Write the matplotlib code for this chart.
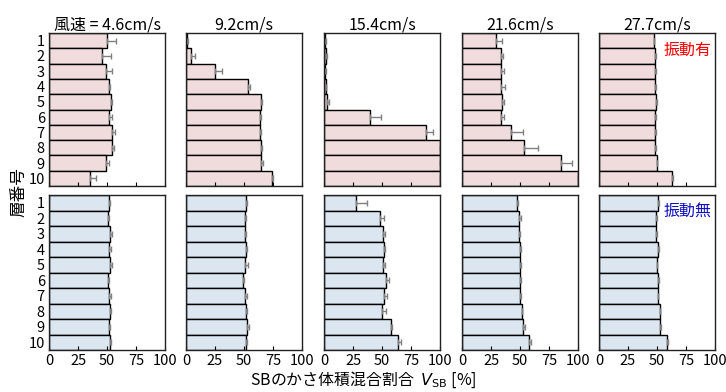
import numpy as np
import matplotlib
matplotlib.use("Agg")
import matplotlib.pyplot as plt

plt.rcParams['font.family'] = ['Noto Sans CJK JP', 'DejaVu Sans']
plt.rcParams['mathtext.fontset'] = 'dejavusans'

layers = np.arange(1, 11)
titles = ["風速 = 4.6cm/s", "9.2cm/s", "15.4cm/s", "21.6cm/s", "27.7cm/s"]

# 振動有 (vibration on): mean and + error for each wind speed
vib_on = [
    [50.0, 45.4, 48.9, 51.7, 53.7, 52.0, 54.0, 54.0, 49.1, 35.0],
    [1.0, 4.6, 25.0, 53.4, 64.3, 64.0, 63.4, 64.6, 64.6, 74.0],
    [1.1, 1.7, 1.0, 1.4, 2.9, 40.0, 88.2, 100.0, 100.0, 100.0],
    [29.6, 33.6, 33.6, 33.6, 34.2, 33.9, 42.5, 53.4, 85.0, 100.0],
    [47.1, 48.3, 48.6, 48.6, 49.4, 48.3, 48.3, 48.3, 49.7, 62.9],
]
vib_on_err = [
    [7.5, 8.0, 5.0, 1.2, 0.6, 2.6, 2.6, 1.7, 2.3, 5.2],
    [0.5, 3.0, 6.3, 1.5, 1.0, 1.0, 1.0, 1.0, 2.2, 1.0],
    [0.5, 1.0, 0.3, 0.5, 1.0, 9.5, 6.0, 0.0, 0.0, 0.0],
    [4.6, 2.0, 2.3, 3.4, 2.0, 2.0, 9.8, 12.0, 10.0, 0.0],
    [0.6, 0.5, 0.5, 0.5, 0.5, 0.5, 0.5, 0.5, 0.5, 1.0],
]

# 振動無 (vibration off)
vib_off = [
    [51.7, 50.9, 52.3, 51.7, 52.3, 51.1, 51.4, 52.3, 51.7, 52.6],
    [51.7, 51.1, 50.6, 51.7, 50.6, 49.1, 50.6, 51.7, 52.9, 51.7],
    [27.3, 48.6, 50.9, 51.4, 50.6, 53.2, 51.7, 50.3, 58.0, 63.8],
    [47.7, 49.4, 48.9, 50.3, 50.3, 50.0, 50.3, 51.4, 52.6, 58.0],
    [50.6, 49.4, 49.1, 50.9, 50.0, 50.9, 50.6, 52.3, 52.3, 58.6],
]
vib_off_err = [
    [0.6, 1.1, 2.0, 1.4, 1.7, 0.9, 1.7, 0.9, 0.6, 1.1],
    [0.9, 0.9, 0.9, 0.9, 2.5, 1.0, 1.7, 1.0, 1.0, 1.0],
    [9.8, 3.2, 2.0, 1.2, 1.7, 3.2, 2.6, 2.9, 1.0, 2.9],
    [0.9, 1.1, 1.1, 0.9, 0.9, 0.9, 0.9, 0.6, 1.4, 1.4],
    [0.9, 0.6, 0.9, 0.9, 0.3, 0.6, 0.6, 0.6, 1.1, 1.1],
]

fig = plt.figure(figsize=(7.26, 3.92), dpi=100)
W, H = 726, 392
lefts = [49, 186, 324, 462, 599]
pw = 116
rows = [(33, 186), (195, 350)]
colors = ["#f0dcdc", "#dce6f0"]
data = [(vib_on, vib_on_err), (vib_off, vib_off_err)]

for r, (top, bot) in enumerate(rows):
    vals, errs = data[r]
    for c in range(5):
        ax = fig.add_axes([lefts[c] / W, 1 - bot / H, pw / W, (bot - top) / H])
        ax.barh(layers, vals[c], height=1.0, color=colors[r], edgecolor="black", linewidth=1.0)
        ax.errorbar(vals[c], layers, xerr=[np.zeros(10), errs[c]], fmt="none",
                    ecolor="#808080", elinewidth=1.0, capsize=2.5, capthick=1.0)
        ax.set_xlim(0, 100)
        ax.set_ylim(10.5, 0.5)
        ax.set_xticks([0, 25, 50, 75, 100])
        ax.tick_params(axis="x", direction="in", length=3, labelsize=10.5, pad=3)
        ax.tick_params(axis="y", length=0, labelsize=10.5, pad=3)
        ax.set_yticks(layers)
        if c > 0:
            ax.set_yticklabels([])
        if r == 0:
            ax.set_xticklabels([])
            ax.set_title(titles[c], fontsize=11.5, pad=2)
        for s in ax.spines.values():
            s.set_linewidth(1.0)
            s.set_color("#222222")

fig.text(712 / W, 1 - 50 / H, "振動有", color="red", fontsize=11.5, ha="right", va="center")
fig.text(712 / W, 1 - 212 / H, "振動無", color="#1010c0", fontsize=11.5, ha="right", va="center")
fig.text(19 / W, 1 - 192 / H, "層番号", rotation=90, fontsize=12, ha="center", va="center")
fig.text(363 / W, 1 - 380 / H, "SBのかさ体積混合割合  $V_{\\mathrm{SB}}$ [%]", fontsize=11.5,
         ha="center", va="center")

fig.savefig("out.png", dpi=100)
